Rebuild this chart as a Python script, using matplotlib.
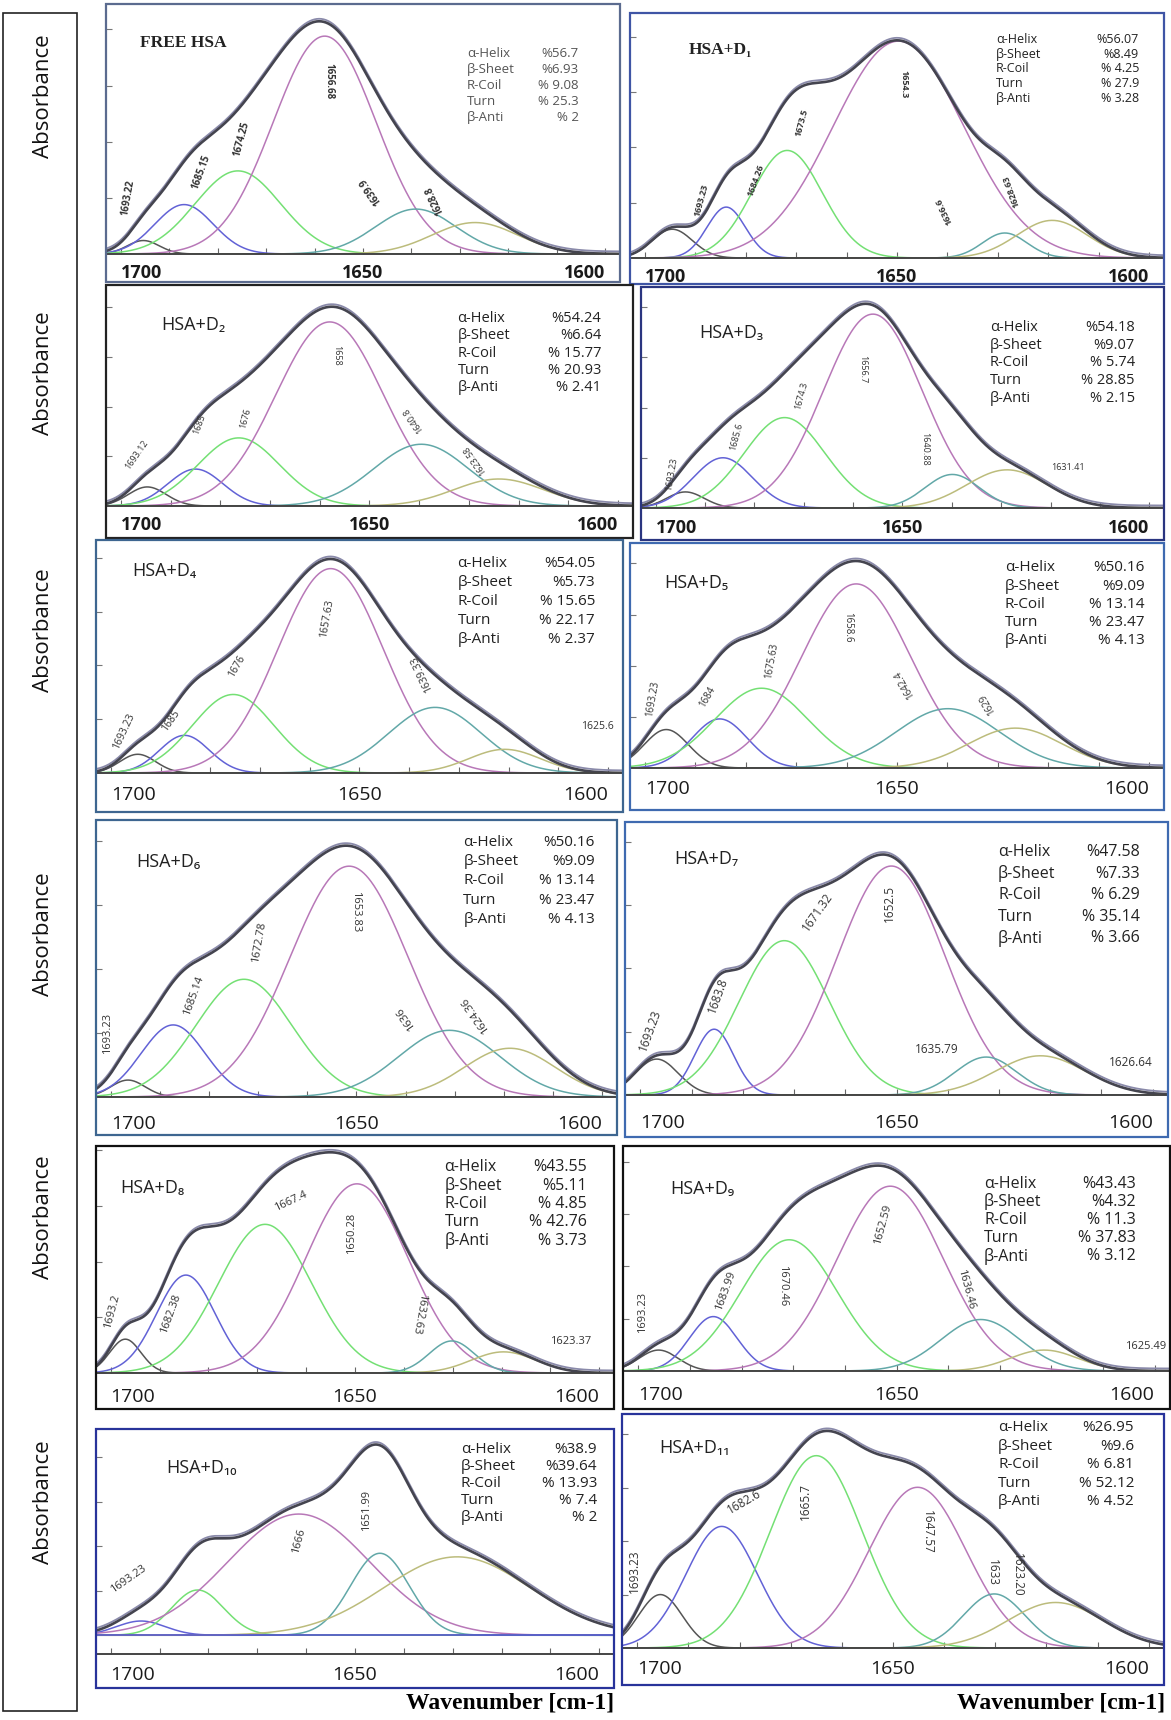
import numpy as np
import matplotlib.pyplot as plt
from matplotlib.patches import Rectangle
from matplotlib.transforms import offset_copy

plt.rcParams['font.family'] = ['Open Sans', 'DejaVu Sans']

# ---- data ----
titles = ['FREE HSA', 'HSA+D\u2081', 'HSA+D\u2082', 'HSA+D\u2083', 'HSA+D\u2084', 'HSA+D\u2085',
          'HSA+D\u2086', 'HSA+D\u2087', 'HSA+D\u2088', 'HSA+D\u2089', 'HSA+D\u2081\u2080', 'HSA+D\u2081\u2081']
structures = ['\u03b1-Helix', '\u03b2-Sheet', 'R-Coil', 'Turn', '\u03b2-Anti']
helix = [56.7, 56.07, 54.24, 54.18, 54.05, 50.16, 50.16, 47.58, 43.55, 43.43, 38.9, 26.95]
sheet = [6.93, 8.49, 6.64, 9.07, 5.73, 9.09, 9.09, 7.33, 5.11, 4.32, 39.64, 9.6]
coil = [9.08, 4.25, 15.77, 5.74, 15.65, 13.14, 13.14, 6.29, 4.85, 11.3, 13.93, 6.81]
turn = [25.3, 27.9, 20.93, 28.85, 22.17, 23.47, 23.47, 35.14, 42.76, 37.83, 7.4, 52.12]
anti = [2, 3.28, 2.41, 2.15, 2.37, 4.13, 4.13, 3.66, 3.73, 3.12, 2, 4.52]

# fitted bands: centre (cm-1), height (relative), width (sigma, cm-1)
band_kinds = ['kbgmto'] * 10 + ['bgmto', 'kbgmto']
centers = [
    [1695.3, 1686.9, 1675.8, 1657.9, 1639.1, 1626.9],
    [1694.6, 1683.9, 1671.8, 1649.7, 1628.6, 1619.2],
    [1694.7, 1685.0, 1676.3, 1658.0, 1639.6, 1624.0],
    [1694.0, 1686.4, 1673.9, 1656.0, 1639.9, 1628.8],
    [1694.6, 1685.2, 1675.4, 1655.8, 1634.8, 1620.8],
    [1695.8, 1685.2, 1676.9, 1658.1, 1639.9, 1626.5],
    [1696.5, 1687.3, 1672.9, 1651.5, 1631.1, 1618.8],
    [1696.8, 1685.6, 1671.9, 1651.0, 1632.5, 1621.9],
    [1697.0, 1684.6, 1668.4, 1649.6, 1630.2, 1619.6],
    [1696.1, 1685.5, 1670.8, 1651.2, 1633.7, 1621.4],
    [1693.8, 1682.2, 1661.5, 1644.9, 1629.1],
    [1695.5, 1683.5, 1665.0, 1645.2, 1630.2, 1618.2],
]
heights = [
    [0.06, 0.22, 0.37, 0.97, 0.20, 0.14],
    [0.13, 0.23, 0.486, 0.98, 0.113, 0.17],
    [0.096, 0.186, 0.343, 0.927, 0.311, 0.136],
    [0.08, 0.25, 0.45, 0.965, 0.167, 0.19],
    [0.087, 0.175, 0.365, 0.95, 0.305, 0.11],
    [0.188, 0.24, 0.39, 0.9, 0.29, 0.195],
    [0.066, 0.281, 0.459, 0.9, 0.26, 0.19],
    [0.142, 0.26, 0.61, 0.905, 0.15, 0.155],
    [0.152, 0.44, 0.668, 0.85, 0.144, 0.095],
    [0.1, 0.26, 0.627, 0.883, 0.246, 0.1],
    [0.08, 0.254, 0.68, 0.46, 0.44],
    [0.25, 0.569, 0.9, 0.752, 0.253, 0.213],
]
widths = [
    [3.3, 6.0, 8.8, 10.6, 8.3, 8.8],
    [4.0, 3.8, 7.0, 13.0, 4.4, 7.0],
    [3.8, 5.5, 8.2, 10.8, 9.5, 9.0],
    [3.8, 6.0, 8.2, 10.0, 5.5, 8.2],
    [3.6, 5.0, 8.2, 10.6, 9.3, 7.2],
    [4.4, 5.5, 9.3, 10.8, 10.3, 9.3],
    [3.5, 6.5, 9.8, 12.0, 10.3, 9.3],
    [4.2, 3.8, 8.8, 10.5, 6.0, 8.8],
    [3.2, 6.0, 9.5, 10.5, 4.6, 6.6],
    [3.8, 4.6, 9.3, 10.3, 7.7, 6.6],
    [5.0, 5.3, 14.5, 6.0, 15.0],
    [4.3, 7.0, 9.0, 9.5, 6.0, 9.3],
]
peak_text = [
    ['1693.22', '1685.15', '1674.25', '1656.68', '1639.9', '1628.8'],
    ['1693.23', '1684.26', '1673.5', '1654.3', '1636.6', '1628.63'],
    ['1693.12', '1685', '1676', '1658', '1640.8', '1623.58'],
    ['1693.23', '1685.6', '1674.3', '1656.7', '1640.88', '1631.41'],
    ['1693.23', '1685', '1676', '1657.63', '1639.33', '1625.6'],
    ['1693.23', '1684', '1675.63', '1658.6', '1642.4', '1629'],
    ['1693.23', '1685.14', '1672.78', '1653.83', '1636', '1624.36'],
    ['1693.23', '1683.8', '1671.32', '1652.5', '1635.79', '1626.64'],
    ['1693.2', '1682.38', '1667.4', '1650.28', '1632.63', '1623.37'],
    ['1693.23', '1683.99', '1670.46', '1652.59', '1636.46', '1625.49'],
    ['1693.23', '1666', '1651.99'],
    ['1693.23', '1682.6', '1665.7', '1647.57', '1633', '1623.20'],
]

# ---- layout ----
# panel box: left, top, right, bottom, baseline (pixels)
boxes = [
    (106, 4, 620, 282, 254), (630, 13, 1164, 284, 258),
    (106, 285, 633, 538, 506), (641, 287, 1164, 540, 508),
    (96, 540, 623, 812, 773), (630, 543, 1164, 810, 768),
    (96, 820, 617, 1135, 1097), (625, 822, 1168, 1137, 1095),
    (96, 1146, 614, 1409, 1373), (623, 1146, 1170, 1409, 1371),
    (96, 1429, 614, 1688, 1654), (622, 1414, 1164, 1685, 1648),
]
box_colors = ['#5b6b8f', '#3f55a5', '#222222', '#2a3580', '#3e6690', '#3f6ab0',
              '#3e6690', '#3f6ab0', '#111111', '#111111', '#28339a', '#28339a']
y_lims = [(0, 1.113), (0, 1.107), (0, 1.113), (0, 1.10), (0, 1.083), (0, 1.10),
          (0, 1.08), (0, 1.079), (0, 1.02), (0, 1.075), (-0.105, 1.157), (0, 1.095)]
label_pos = [
    [(1698.5, 0.25, 80), (1683.4, 0.365, 70), (1675.0, 0.51, 75), (1657.1, 0.77, -90), (1648.5, 0.28, 125), (1635.3, 0.24, 115)],
    [(1688.8, 0.26, 75), (1678.0, 0.35, 70), (1669.0, 0.61, 75), (1648.6, 0.785, -90), (1640.7, 0.21, 115), (1627.2, 0.30, 110)],
    [(1696.8, 0.26, 55), (1684.3, 0.41, 70), (1674.9, 0.44, 75), (1656.6, 0.757, -90), (1641.3, 0.435, 125), (1628.8, 0.235, 125)],
    [(1696.8, 0.17, 80), (1683.6, 0.356, 75), (1670.4, 0.558, 75), (1658.0, 0.69, -90), (1645.5, 0.295, -90), (1616.4, 0.2, 0)],
    [(1697.4, 0.194, 65), (1688.0, 0.244, 55), (1674.7, 0.495, 60), (1656.5, 0.717, 80), (1637.6, 0.463, 115), (1602.2, 0.217, 0)],
    [(1698.5, 0.338, 80), (1687.6, 0.346, 60), (1674.9, 0.524, 80), (1659.8, 0.687, -90), (1648.5, 0.41, 120), (1632.0, 0.313, 120)],
    [(1700.7, 0.248, 90), (1683.1, 0.393, 70), (1669.8, 0.604, 80), (1650.1, 0.723, -90), (1639.9, 0.307, 125), (1625.8, 0.32, 125)],
    [(1698.2, 0.257, 70), (1684.9, 0.395, 70), (1665.4, 0.724, 55), (1651.4, 0.757, 90), (1642.1, 0.178, 0), (1604.2, 0.129, 0)],
    [(1699.8, 0.275, 75), (1687.8, 0.267, 70), (1663.1, 0.77, 25), (1650.7, 0.628, 90), (1636.9, 0.267, -100), (1605.8, 0.14, 0)],
    [(1699.2, 0.28, 90), (1683.1, 0.383, 70), (1672.1, 0.406, -90), (1652.6, 0.698, 75), (1636.5, 0.39, -75), (1601.8, 0.115, 0)],
    [(1696.3, 0.315, 35), (1661.5, 0.526, 75), (1647.7, 0.698, 90)],
    [(1700.6, 0.36, 90), (1679.1, 0.684, 30), (1667.1, 0.684, 90), (1643.2, 0.542, -90), (1630.5, 0.352, -90), (1625.7, 0.344, -90)],
]
label_size = [7, 6.5, 6.5, 6.5, 7.5, 7, 8, 8.5, 8, 8, 8, 8.5]
title_xy = [(0.066, 0.844), (0.11, 0.847), (0.105, 0.82), (0.111, 0.793), (0.069, 0.868), (0.065, 0.823),
            (0.078, 0.847), (0.09, 0.866), (0.047, 0.813), (0.087, 0.81), (0.136, 0.826), (0.068, 0.856)]
table_xy = [(0.702, 0.92, 0.803, 0.064), (0.685, 0.953, 0.892, 0.06), (0.667, 0.94, 0.848, 0.078),
            (0.667, 0.944, 0.817, 0.08), (0.686, 0.947, 0.897, 0.081), (0.702, 0.964, 0.889, 0.081),
            (0.705, 0.957, 0.92, 0.07), (0.687, 0.948, 0.89, 0.079), (0.673, 0.947, 0.906, 0.081),
            (0.66, 0.938, 0.832, 0.0805), (0.704, 0.967, 0.909, 0.076), (0.694, 0.945, 0.942, 0.079)]
table_size = [9.5, 9, 10.5, 10.5, 11, 11, 11, 11.5, 11.5, 11.5, 11, 11]
tick_pad = [7, 7, 7, 8, 9, 9, 13, 14, 11, 11, 9, 9]
kind_colors = {'k': '#555555', 'b': '#6262d6', 'g': '#74e074', 'm': '#b878b8',
               't': '#62a8a8', 'o': '#bcbc7c'}

W, H = 1171, 1720
fig = plt.figure(figsize=(W / 100, H / 100), dpi=100)

x = np.linspace(1596, 1704, 900)

for i in range(12):
    l, t, r, b, base = boxes[i]
    fig.add_artist(Rectangle((l / W, 1 - b / H), (r - l) / W, (b - t) / H, transform=fig.transFigure,
                             fill=False, ec=box_colors[i], lw=1.6))
    ax = fig.add_axes([l / W, 1 - base / H, (r - l) / W, (base - t) / H])
    ax.patch.set_alpha(0)
    ax.set_xlim(1703, 1597)
    ax.set_ylim(*y_lims[i])
    for s in ['top', 'left', 'right']:
        ax.spines[s].set_visible(False)
    ax.spines['bottom'].set_color('#444444')
    ax.spines['bottom'].set_linewidth(1.4)

    total = np.zeros_like(x)
    for kind, c, h, w in zip(band_kinds[i], centers[i], heights[i], widths[i]):
        y = h * np.exp(-(x - c) ** 2 / (2 * w ** 2))
        total += y
        ax.plot(x, y, color=kind_colors[kind], lw=1.1)
    up = offset_copy(ax.transData, fig=fig, x=0, y=2.5, units='dots')
    ax.plot(x, total, color='#8a8aaa', lw=1.3, transform=up)
    ax.plot(x, total, color='#44444f', lw=1.9)
    if y_lims[i][0] < 0:
        ax.axhline(0, color='#5555cc', lw=1.2)

    ticks = list(range(1600, 1701, 10))
    labels = ['1600' if v == 1600 else '1650' if v == 1650 else '1700' if v == 1700 else '' for v in ticks]
    ax.set_xticks(ticks, labels)
    ax.set_yticks([0.25, 0.5, 0.75, 1.0], [])
    bold = i < 4
    ax.tick_params(axis='x', direction='in', length=4, color='#666666', pad=tick_pad[i],
                   labelsize=13 if bold else 14, labelcolor='#1a1a1a')
    ax.tick_params(axis='y', direction='in', length=4, color='#777777')
    for lab in ax.get_xticklabels():
        if bold:
            lab.set_fontweight('bold')
        if lab.get_text() == '1700':
            lab.set_ha('left')
        elif lab.get_text() == '1600':
            lab.set_ha('right')

    for txt, (px, py, rot) in zip(peak_text[i], label_pos[i]):
        ax.text(px, py, txt, rotation=rot, ha='center', va='center', rotation_mode='anchor',
                fontsize=label_size[i], color='#333333', fontweight='bold' if i < 2 else 'normal')

    tx, ty = title_xy[i]
    if i < 2:
        ax.text(tx, ty, titles[i], transform=ax.transAxes, ha='left', va='center', fontsize=12.5,
                fontweight='bold', family=['Liberation Serif', 'DejaVu Serif'], color='#222222')
    else:
        ax.text(tx, ty, titles[i], transform=ax.transAxes, ha='left', va='center', fontsize=13,
                color='#222222')

    xl, xr, y0, dy = table_xy[i]
    vals = ['%' + f'{helix[i]:g}', '%' + f'{sheet[i]:g}', '% ' + f'{coil[i]:g}',
            '% ' + f'{turn[i]:g}', '% ' + f'{anti[i]:g}']
    tcol = '#555555' if i == 0 else '#222222'
    for k, (name, val) in enumerate(zip(structures, vals)):
        ax.text(xl, y0 - k * dy, name, transform=ax.transAxes, ha='left', va='center',
                fontsize=table_size[i], color=tcol)
        ax.text(xr, y0 - k * dy, val, transform=ax.transAxes, ha='right', va='center',
                fontsize=table_size[i], color=tcol)

# left "Absorbance" column
fig.add_artist(Rectangle((3 / W, 1 - 1711 / H), 74 / W, 1698 / H, transform=fig.transFigure,
                         fill=False, ec='#222222', lw=1.2))
for yc in [96, 373, 630, 934, 1217, 1502]:
    fig.text(44 / W, 1 - yc / H, 'Absorbance', rotation=90, ha='center', va='center',
             fontsize=16, color='#111111')

for xr in [614, 1165]:
    fig.text(xr / W, 1 - 1703 / H, 'Wavenumber [cm-1]', ha='right', va='center', fontsize=17,
             fontweight='bold', family=['Liberation Serif', 'DejaVu Serif'])

fig.savefig('out.png', dpi=100)
